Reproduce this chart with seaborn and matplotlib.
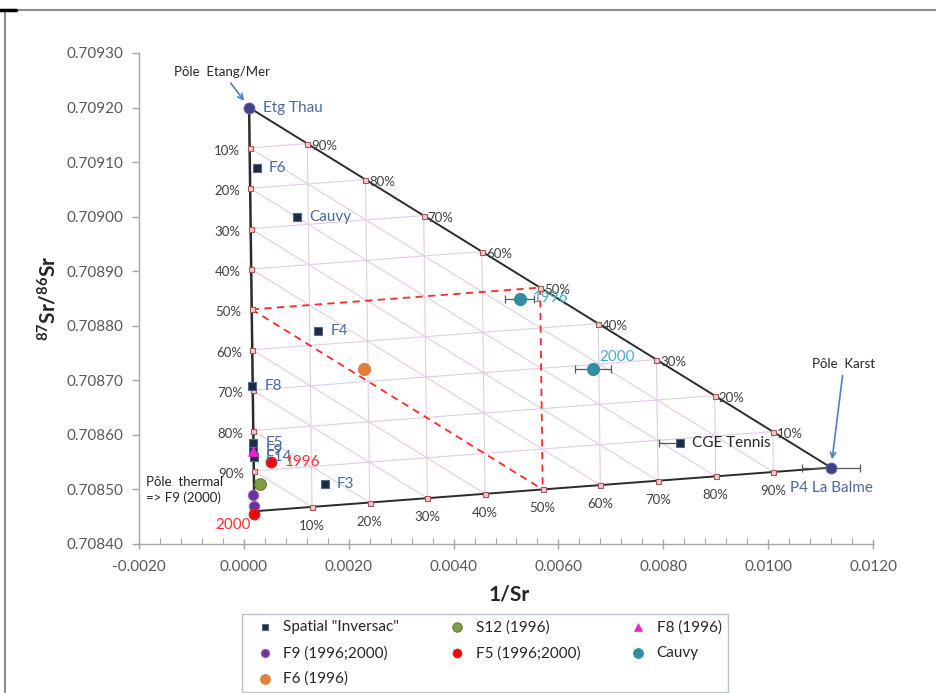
import numpy as np
import matplotlib
matplotlib.use('Agg')
import matplotlib.pyplot as plt
import seaborn as sns
from matplotlib.ticker import MultipleLocator, FuncFormatter
from matplotlib.patches import Rectangle
from matplotlib.lines import Line2D

# ---------------------------------------------------------------
# data (x = 1/Sr, y = 87Sr/86Sr)
# ---------------------------------------------------------------

# end-members of the mixing triangle : Etang/Mer, thermal, Karst
pole_x = [0.0001, 0.0002, 0.0112]
pole_y = [0.70920, 0.70846, 0.70854]
karst_xerr = 0.00056

# Spatial "Inversac" samples
inv_names = ['F6', 'Cauvy', 'F4', 'F8', 'F5', 'F9', 'F14', 'F3', 'CGE Tennis']
inv_x = [0.00025, 0.00101, 0.00142, 0.00016, 0.00018, 0.00018, 0.00019, 0.00155, 0.00832]
inv_y = [0.70909, 0.70900, 0.70879, 0.70869, 0.708585, 0.70857, 0.70856, 0.70851, 0.708585]

s12_x = [0.00031]
s12_y = [0.70851]

f8_x = [0.00017]
f8_y = [0.70857]

f9_x = [0.00018, 0.00019]
f9_y = [0.70849, 0.70847]

f5_x = [0.00052, 0.00019]
f5_y = [0.70855, 0.708455]
f5_years = ['1996', '2000']

cauvy_x = [0.00526, 0.00666]
cauvy_y = [0.70885, 0.70872]
cauvy_xerr = [0.00027, 0.00034]
cauvy_years = ['1996', '2000']

f6_x = [0.0023]
f6_y = [0.70872]

fractions = [0.1, 0.2, 0.3, 0.4, 0.5, 0.6, 0.7, 0.8, 0.9]
pct_labels = ['10%', '20%', '30%', '40%', '50%', '60%', '70%', '80%', '90%']

# ---------------------------------------------------------------
# style
# ---------------------------------------------------------------
sns.set_theme(style='white')
plt.rcParams['font.family'] = ['Lato', 'DejaVu Sans']
plt.rcParams['mathtext.fontset'] = 'custom'
plt.rcParams['mathtext.rm'] = 'Lato'
plt.rcParams['mathtext.bf'] = 'Lato:bold'

PX = 0.72  # pixels -> points at dpi 100
W, H = 936, 693

fig = plt.figure(figsize=(W / 100, H / 100), dpi=100)
ax = fig.add_axes([139 / W, 1 - 544 / H, (873 - 139) / W, (544 - 53) / H])

E = np.array([pole_x[0], pole_y[0]])
T = np.array([pole_x[1], pole_y[1]])
K = np.array([pole_x[2], pole_y[2]])


def tern(e, t, k):
    """barycentric position inside the mixing triangle"""
    p = e * E + t * T + k * K
    return p[0], p[1]


# grid lines (10% steps) + red dashed 50% lines
for f in fractions:
    lines = [(tern(f, 1 - f, 0), tern(f, 0, 1 - f)),      # constant Etang
             (tern(1 - f, 0, f), tern(0, 1 - f, f)),      # constant Karst
             (tern(1 - f, f, 0), tern(0, f, 1 - f))]      # constant thermal
    for a, b in lines:
        if abs(f - 0.5) < 1e-9:
            ax.plot([a[0], b[0]], [a[1], b[1]], color='#FF2A2A', lw=1.3,
                    ls=(0, (4, 3)), zorder=2)
        else:
            ax.plot([a[0], b[0]], [a[1], b[1]], color='#E3CCE6', lw=0.8, zorder=1)

# triangle sides
ax.plot([E[0], T[0]], [E[1], T[1]], color='#2B2B2B', lw=1.8, zorder=3)
ax.plot([E[0], K[0]], [E[1], K[1]], color='#2B2B2B', lw=1.4, zorder=3)
ax.plot([T[0], K[0]], [T[1], K[1]], color='#2B2B2B', lw=1.4, zorder=3)

# side tick markers + percentage labels
left_pts = [tern(1 - f, f, 0) for f in fractions]
top_pts = [tern(f, 0, 1 - f) for f in fractions]
bot_pts = [tern(0, 1 - f, f) for f in fractions]
for pts in (left_pts, top_pts, bot_pts):
    ax.plot([p[0] for p in pts], [p[1] for p in pts], ls='none', marker='s', ms=3.6,
            mfc='#F2C9C9', mec='#A55858', mew=0.8, zorder=4)

pct_kw = dict(textcoords='offset points', fontsize=9.5, color='#404040', va='center', zorder=6)
for p, lab in zip(left_pts, pct_labels):
    ax.annotate(lab, p, xytext=(-10 * PX, -3 * PX), ha='right', **pct_kw)
for p, lab in zip(top_pts, pct_labels):
    ax.annotate(lab, p, xytext=(4 * PX, -2 * PX), ha='left', **pct_kw)
for p, lab in zip(bot_pts, pct_labels):
    ax.annotate(lab, p, xytext=(0, -19 * PX), ha='center', **pct_kw)

# ---------------------------------------------------------------
# data series
# ---------------------------------------------------------------
ax.errorbar(cauvy_x, cauvy_y, xerr=cauvy_xerr, fmt='none', ecolor='#595959',
            elinewidth=0.9, capsize=3, capthick=0.9, zorder=5)
ax.errorbar([inv_x[-1]], [inv_y[-1]], xerr=[[0.0004], [0]], fmt='none', ecolor='#595959',
            elinewidth=0.9, capsize=3, capthick=0.9, zorder=5)
ax.errorbar([K[0]], [K[1]], xerr=karst_xerr, fmt='none', ecolor='#595959',
            elinewidth=0.9, capsize=3, capthick=0.9, zorder=5)

sns.scatterplot(x=inv_x, y=inv_y, marker='s', s=28, color='#1C2A44', edgecolor='#51698F',
                linewidth=0.8, label='Spatial "Inversac"', ax=ax, zorder=7)
sns.scatterplot(x=s12_x, y=s12_y, marker='o', s=70, color='#7F9F45', edgecolor='#5F7A30',
                linewidth=0.8, label='S12 (1996)', ax=ax, zorder=7)
sns.scatterplot(x=f9_x, y=f9_y, marker='o', s=55, color='#7030A0', edgecolor='#8F6FB0',
                linewidth=0.8, label='F9 (1996;2000)', ax=ax, zorder=7)
sns.scatterplot(x=f8_x, y=f8_y, marker='^', s=50, color='#E81ED8', edgecolor='#E81ED8',
                linewidth=0.5, label='F8 (1996)', ax=ax, zorder=8)
sns.scatterplot(x=f5_x, y=f5_y, marker='o', s=60, color='#FF0000', edgecolor='#C03030',
                linewidth=0.8, label='F5 (1996;2000)', ax=ax, zorder=8)
sns.scatterplot(x=cauvy_x, y=cauvy_y, marker='o', s=75, color='#2E8FA3', edgecolor='#2E8FA3',
                linewidth=0.8, label='Cauvy', ax=ax, zorder=7)
sns.scatterplot(x=f6_x, y=f6_y, marker='o', s=75, color='#E0803A', edgecolor='#E0803A',
                linewidth=0.8, label='F6 (1996)', ax=ax, zorder=7)
# end-member points (no legend entry)
sns.scatterplot(x=[E[0], K[0]], y=[E[1], K[1]], marker='o', s=60, color='#40408A',
                edgecolor='#6060A0', linewidth=0.8, ax=ax, zorder=7)

handles, labels = ax.get_legend_handles_labels()
if ax.get_legend() is not None:
    ax.get_legend().remove()

# ---------------------------------------------------------------
# labels
# ---------------------------------------------------------------
blue = '#4A6A9E'
for name, x, y in zip(inv_names, inv_x, inv_y):
    ax.annotate(name, (x, y), xytext=(12 * PX, 0), textcoords='offset points',
                ha='left', va='center', fontsize=11,
                color='#262626' if name == 'CGE Tennis' else blue, zorder=9)

ax.annotate(f5_years[0], (f5_x[0], f5_y[0]), xytext=(14 * PX, 0), textcoords='offset points',
            ha='left', va='center', fontsize=11, color='#FF3030', zorder=9)
ax.annotate(f5_years[1], (f5_x[1], f5_y[1]), xytext=(-3 * PX, -11 * PX), textcoords='offset points',
            ha='right', va='center', fontsize=11, color='#FF3030', zorder=9)
ax.annotate(cauvy_years[0], (cauvy_x[0], cauvy_y[0]), xytext=(13 * PX, 0), textcoords='offset points',
            ha='left', va='center', fontsize=11, color='#4BACC6', zorder=9)
ax.annotate(cauvy_years[1], (cauvy_x[1], cauvy_y[1]), xytext=(6 * PX, 12 * PX), textcoords='offset points',
            ha='left', va='center', fontsize=11, color='#4BACC6', zorder=9)

ax.annotate('Etg Thau', E, xytext=(14 * PX, 0), textcoords='offset points',
            ha='left', va='center', fontsize=11, color=blue, zorder=9)
ax.annotate('P4 La Balme', K, xytext=(0, -20 * PX), textcoords='offset points',
            ha='center', va='center', fontsize=11, color=blue, zorder=9)

arrow = dict(arrowstyle='->', color='#4F81BD', lw=1.2, shrinkA=2, shrinkB=6)
ax.annotate('Pôle  Etang/Mer', E, xytext=(-27 * PX, 36 * PX), textcoords='offset points',
            ha='center', va='center', fontsize=9.5, color='#262626', arrowprops=arrow, zorder=9)
ax.annotate('Pôle  Karst', K, xytext=(13 * PX, 104 * PX), textcoords='offset points',
            ha='center', va='center', fontsize=9.5, color='#262626', arrowprops=arrow, zorder=9)
ax.annotate('Pôle  thermal\n=> F9 (2000)', T, xytext=(-108 * PX, 21 * PX), textcoords='offset points',
            ha='left', va='center', fontsize=9.5, color='#262626', linespacing=1.3, zorder=9)

# ---------------------------------------------------------------
# axes
# ---------------------------------------------------------------
ax.set_xlim(-0.002, 0.012)
ax.set_ylim(0.7084, 0.7093)
ax.xaxis.set_major_locator(MultipleLocator(0.002))
ax.xaxis.set_minor_locator(MultipleLocator(0.0004))
ax.yaxis.set_major_locator(MultipleLocator(0.0001))
ax.xaxis.set_major_formatter(FuncFormatter(lambda v, p: f'{0.0 if abs(v) < 1e-12 else v:.4f}'))
ax.yaxis.set_major_formatter(FuncFormatter(lambda v, p: f'{v:.5f}'))

for side in ['top', 'right']:
    ax.spines[side].set_visible(False)
for side in ['left', 'bottom']:
    ax.spines[side].set_color('#A6A6A6')
    ax.spines[side].set_linewidth(1.0)

ax.tick_params(axis='x', which='major', direction='inout', length=7, width=1.0,
               color='#A6A6A6', labelsize=11, labelcolor='#595959', pad=8, bottom=True)
ax.tick_params(axis='x', which='minor', direction='in', length=4, width=0.8,
               color='#A6A6A6', bottom=True)
ax.tick_params(axis='y', which='major', direction='out', length=5, width=1.0,
               color='#A6A6A6', labelsize=11, labelcolor='#595959', pad=6, left=True)

ax.set_xlabel('1/Sr', fontsize=15, fontweight='bold', color='#262626')
ax.xaxis.set_label_coords(0.505, -0.083)
ax.set_ylabel(r'$\mathbf{^{87}Sr/^{86}Sr}$', fontsize=15, color='#262626')
ax.yaxis.set_label_coords(-0.108, 0.5)

# legend (Excel row-wise order rearranged for matplotlib column filling)
order = ['Spatial "Inversac"', 'F9 (1996;2000)', 'F6 (1996)',
         'S12 (1996)', 'F5 (1996;2000)', 'F8 (1996)', 'Cauvy']
hmap = dict(zip(labels, handles))
leg = fig.legend([hmap[o] for o in order], order, loc='upper left',
                 bbox_to_anchor=(242 / W, 1 - 614 / H), ncol=3, fontsize=11,
                 frameon=True, fancybox=False, edgecolor='#B4C4D8', framealpha=1,
                 borderpad=0.4, labelspacing=0.75, handlelength=2.2, borderaxespad=0,
                 handletextpad=0.1, columnspacing=2.7, markerscale=0.8)
leg.get_frame().set_linewidth(1.0)

# chart area border
fig.patches.append(Rectangle((5 / W, -0.1), 1.2, 1 - 10 / H + 0.1, transform=fig.transFigure,
                             fill=False, edgecolor='#8C8C8C', lw=1.5))
fig.add_artist(Line2D([0, 16 / W], [1 - 10 / H, 1 - 10 / H], color='black', lw=2.5))

fig.savefig('out.png', dpi=100)
